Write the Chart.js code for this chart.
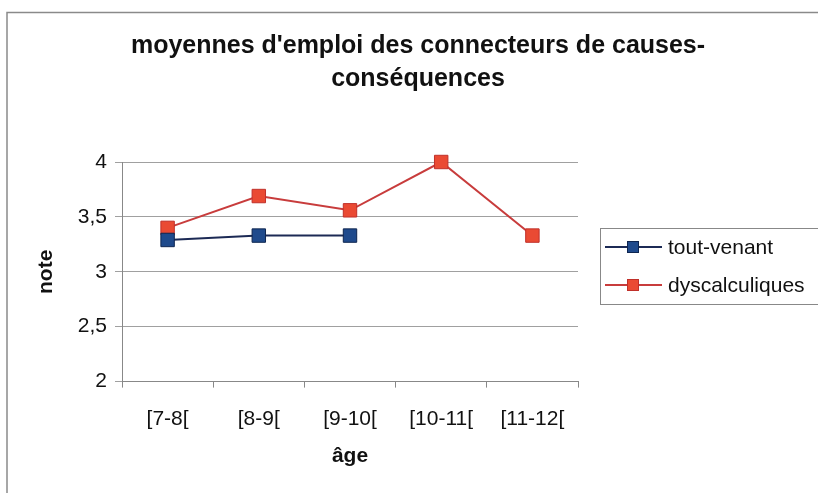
<!DOCTYPE html>
<html>
<head>
<meta charset="utf-8">
<script src="https://cdn.jsdelivr.net/npm/chart.js@4.4.0/dist/chart.umd.min.js"></script>
<style>
  html, body { margin: 0; padding: 0; background: #fff; }
  canvas { display: block; }
</style>
</head>
<body>
<canvas id="myChart" width="818" height="493"></canvas>
<script>
const ageGroups = ['[7-8[', '[8-9[', '[9-10[', '[10-11[', '[11-12['];
const toutVenant = [3.29, 3.33, 3.33, null, null];
const dyscalculiques = [3.4, 3.69, 3.56, 4.0, 3.33];
const yTickLabels = ['2', '2,5', '3', '3,5', '4'];

const FONT = "'Liberation Sans', Arial, sans-serif";
const ctx = document.getElementById('myChart');

// frame + legend drawn by hand (Excel look)
const excelDecor = {
  id: 'excelDecor',
  beforeDraw(chart) {
    const c = chart.ctx;
    c.save();
    c.fillStyle = '#fff';
    c.fillRect(0, 0, chart.width, chart.height);
    c.strokeStyle = '#8a8a8a';
    c.lineWidth = 1.5;
    c.beginPath();
    c.moveTo(7, chart.height);
    c.lineTo(7, 12.5);
    c.lineTo(chart.width, 12.5);
    c.stroke();
    c.restore();
  },
  afterDraw(chart) {
    const c = chart.ctx;
    const items = chart.data.datasets;
    c.save();
    c.strokeStyle = '#888';
    c.lineWidth = 1;
    c.strokeRect(600.5, 228.5, 240, 76);
    c.font = '21px ' + FONT;
    c.textBaseline = 'middle';
    items.forEach((ds, i) => {
      const y = 247 + i * 38;
      c.strokeStyle = ds.borderColor;
      c.lineWidth = 2;
      c.beginPath();
      c.moveTo(605, y);
      c.lineTo(662, y);
      c.stroke();
      c.fillStyle = ds.pointBackgroundColor;
      c.strokeStyle = ds.pointBorderColor;
      c.lineWidth = 1;
      c.fillRect(627, y - 6, 12, 12);
      c.strokeRect(627.5, y - 5.5, 11, 11);
      c.fillStyle = '#111';
      c.fillText(ds.label, 668, y + 1);
    });
    c.restore();
  }
};

new Chart(ctx, {
  type: 'line',
  data: {
    labels: ageGroups,
    datasets: [{
      label: 'tout-venant',
      data: toutVenant,
      borderColor: '#1c2a55',
      borderWidth: 2,
      pointStyle: 'rect',
      pointRadius: 9.5,
      pointBackgroundColor: '#1f4a8c',
      pointBorderColor: '#0e2550',
      pointBorderWidth: 1,
      spanGaps: false,
      clip: false,
      tension: 0
    }, {
      label: 'dyscalculiques',
      data: dyscalculiques,
      borderColor: '#c83c3c',
      borderWidth: 2,
      pointStyle: 'rect',
      pointRadius: 9.5,
      pointBackgroundColor: '#ea4a33',
      pointBorderColor: '#c0302a',
      pointBorderWidth: 1,
      clip: false,
      tension: 0
    }]
  },
  options: {
    responsive: false,
    animation: false,
    layout: { padding: { left: 18, right: 0, top: 0, bottom: 0 } },
    plugins: {
      legend: { display: false },
      tooltip: { enabled: false },
      title: {
        display: true,
        text: ["moyennes d'emploi des connecteurs de causes-", 'conséquences'],
        color: '#111',
        font: { family: FONT, size: 25, weight: 'bold', lineHeight: 1.32 },
        padding: { top: 30, bottom: 66 }
      }
    },
    scales: {
      x: {
        offset: true,
        grid: {
          offset: true,
          drawOnChartArea: false,
          drawTicks: true,
          tickLength: 6,
          color: '#888'
        },
        border: { color: '#888', width: 1 },
        ticks: {
          color: '#111',
          padding: 19,
          maxRotation: 0,
          font: { family: FONT, size: 21 }
        },
        title: {
          display: true,
          text: 'âge',
          color: '#111',
          font: { family: FONT, size: 21, weight: 'bold' },
          padding: { top: -7, bottom: 24 }
        }
      },
      y: {
        min: 2,
        max: 4,
        afterFit(scale) { scale.width = 104; },
        grid: {
          color: '#a0a0a0',
          tickLength: 7,
          lineWidth: 1
        },
        border: { color: '#888', width: 1 },
        ticks: {
          stepSize: 0.5,
          color: '#111',
          padding: 8,
          font: { family: FONT, size: 21 },
          callback: (v, i) => yTickLabels[i]
        },
        title: {
          display: true,
          text: 'note',
          color: '#111',
          font: { family: FONT, size: 21, weight: 'bold' },
          padding: { top: 16, bottom: 0 }
        }
      },
      // empty right axis: keeps room for the legend box
      side: {
        position: 'right',
        min: 0,
        max: 1,
        afterFit(scale) { scale.width = 240; },
        grid: { display: false },
        border: { display: false },
        ticks: { display: false }
      }
    }
  },
  plugins: [excelDecor]
});
</script>
</body>
</html>
